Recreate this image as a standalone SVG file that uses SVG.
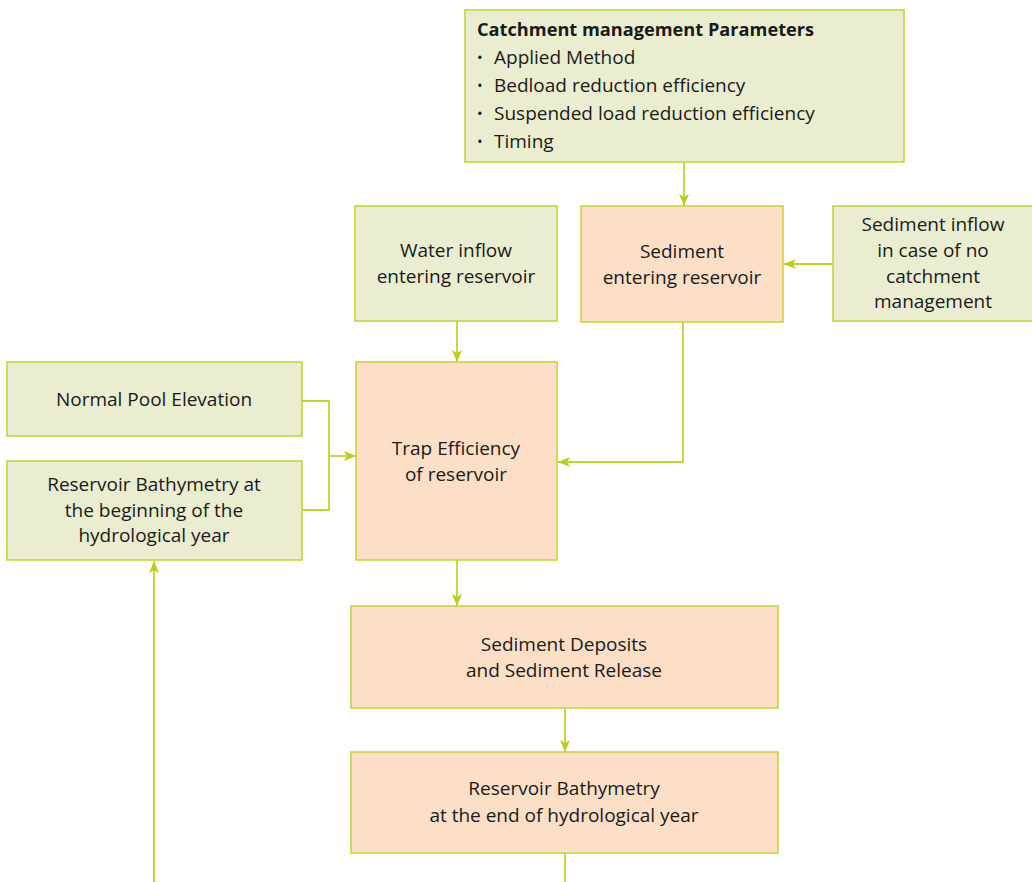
<svg xmlns="http://www.w3.org/2000/svg" width="1032" height="882" viewBox="0 0 1032 882">
  <style>
    .green { fill: #eaedcf; stroke: #c2d334; stroke-width: 1.5; }
    .peach { fill: #fddec6; stroke: #c2d334; stroke-width: 1.5; }
    text { font-family: "Open Sans", "Noto Sans", sans-serif; font-size: 19px; fill: #1a1a1a; }
    .c { text-anchor: middle; }
    .b { font-weight: bold; font-size: 18.2px; }
    .dot { font-size: 15px; }
    .wire { fill: none; stroke: #c2d334; stroke-width: 1.8; }
  </style>
  <defs>
    <marker id="arrow" viewBox="0 0 12 10" refX="12" refY="5" markerWidth="12" markerHeight="10" markerUnits="userSpaceOnUse" orient="auto">
      <path d="M0,0 L12,5 L0,10 L3,5 Z" fill="#bccd1f"/>
    </marker>
  </defs>
  <rect width="1032" height="882" fill="#ffffff"/>

  <g id="connectors">
    <path class="wire" d="M684,162 V206" marker-end="url(#arrow)"/>
    <path class="wire" d="M833,264 H784" marker-end="url(#arrow)"/>
    <path class="wire" d="M457,321 V362" marker-end="url(#arrow)"/>
    <path class="wire" d="M683,322 V462 H558" marker-end="url(#arrow)"/>
    <path class="wire" d="M302,401 H329 V510 H302"/>
    <path class="wire" d="M329,456 H356" marker-end="url(#arrow)"/>
    <path class="wire" d="M457,560 V606" marker-end="url(#arrow)"/>
    <path class="wire" d="M565,708 V752" marker-end="url(#arrow)"/>
    <path class="wire" d="M565,853 V882"/>
    <path class="wire" d="M154,882 V561" marker-end="url(#arrow)"/>
  </g>

  <g id="catchment-parameters">
    <rect class="green" x="465" y="10" width="439" height="152"/>
    <text class="b" x="477" y="36">Catchment management Parameters</text>
    <text class="dot" x="477" y="63">•</text><text x="494" y="64">Applied Method</text>
    <text class="dot" x="477" y="91">•</text><text x="494" y="92">Bedload reduction efficiency</text>
    <text class="dot" x="477" y="119">•</text><text x="494" y="120">Suspended load reduction efficiency</text>
    <text class="dot" x="477" y="147">•</text><text x="494" y="148">Timing</text>
  </g>

  <g id="water-inflow">
    <rect class="green" x="355" y="206" width="202" height="115"/>
    <text class="c" x="456" y="257">Water inflow</text>
    <text class="c" x="456" y="283">entering reservoir</text>
  </g>

  <g id="sediment-entering">
    <rect class="peach" x="581" y="206" width="202" height="116"/>
    <text class="c" x="682" y="258">Sediment</text>
    <text class="c" x="682" y="284">entering reservoir</text>
  </g>

  <g id="sediment-inflow-no-management">
    <rect class="green" x="833" y="206" width="200" height="115"/>
    <text class="c" x="933" y="231">Sediment inflow</text>
    <text class="c" x="933" y="257">in case of no</text>
    <text class="c" x="933" y="283">catchment</text>
    <text class="c" x="933" y="308">management</text>
  </g>

  <g id="normal-pool-elevation">
    <rect class="green" x="7" y="362" width="295" height="74"/>
    <text class="c" x="154" y="406">Normal Pool Elevation</text>
  </g>

  <g id="bathymetry-beginning">
    <rect class="green" x="7" y="461" width="295" height="99"/>
    <text class="c" x="154" y="491">Reservoir Bathymetry at</text>
    <text class="c" x="154" y="517">the beginning of the</text>
    <text class="c" x="154" y="542">hydrological year</text>
  </g>

  <g id="trap-efficiency">
    <rect class="peach" x="356" y="362" width="201" height="198"/>
    <text class="c" x="456" y="455">Trap Efficiency</text>
    <text class="c" x="456" y="481">of reservoir</text>
  </g>

  <g id="deposits-release">
    <rect class="peach" x="351" y="606" width="427" height="102"/>
    <text class="c" x="564" y="651">Sediment Deposits</text>
    <text class="c" x="564" y="677">and Sediment Release</text>
  </g>

  <g id="bathymetry-end">
    <rect class="peach" x="351" y="752" width="427" height="101"/>
    <text class="c" x="564" y="795">Reservoir Bathymetry</text>
    <text class="c" x="564" y="822">at the end of hydrological year</text>
  </g>
</svg>
